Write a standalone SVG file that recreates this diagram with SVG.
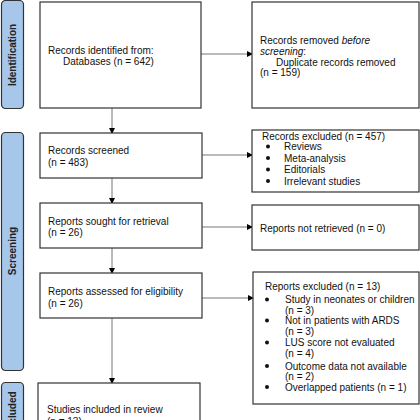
<svg xmlns="http://www.w3.org/2000/svg" width="420" height="420" viewBox="0 0 420 420">
<defs>
<marker id="ah" markerWidth="6" markerHeight="6" refX="5" refY="3" orient="auto" markerUnits="userSpaceOnUse">
<path d="M0,0 L6,3 L0,6 Z" fill="#000"/>
</marker>
<style>
.box{fill:#fff;stroke:#333;stroke-width:1.2}
.bar{fill:#a6c6ea;stroke:#333;stroke-width:1.2}
.t{font-family:"Liberation Sans",Arial,sans-serif;font-size:10px;fill:#111}
.bt{font-family:"Liberation Sans",Arial,sans-serif;font-size:10px;font-weight:bold;fill:#222}
.c{stroke:#777;stroke-width:1;fill:none;marker-end:url(#ah)}
</style>
</defs>
<rect width="420" height="420" fill="#fff"/>
<g id="bar-identification"><rect class="bar" x="1.5" y="0.5" width="22" height="108" rx="4"/><text class="bt" transform="translate(16,55) rotate(-90)" text-anchor="middle">Identification</text></g>
<g id="bar-screening"><rect class="bar" x="1.5" y="132.5" width="22" height="238" rx="4"/><text class="bt" transform="translate(16,251) rotate(-90)" text-anchor="middle">Screening</text></g>
<g id="bar-included"><rect class="bar" x="1.5" y="382.5" width="22" height="100" rx="4"/><text class="bt" transform="translate(16,412) rotate(-90)" text-anchor="middle">Included</text></g>

<g id="connectors">
<line class="c" x1="201" y1="54" x2="252" y2="54"/>
<line class="c" x1="112" y1="108" x2="112" y2="133"/>
<line class="c" x1="202" y1="155" x2="252" y2="155"/>
<line class="c" x1="112" y1="178" x2="112" y2="203"/>
<line class="c" x1="202" y1="227" x2="252" y2="227"/>
<line class="c" x1="112" y1="248" x2="112" y2="273"/>
<line class="c" x1="202" y1="298" x2="253" y2="298"/>
<line class="c" x1="112" y1="318" x2="112" y2="383"/>
</g>

<g id="identified"><rect class="box" x="40" y="2" width="161" height="106"/>
<text class="t" x="48" y="53.5">Records identified from:</text>
<text class="t" x="63" y="65">Databases (n = 642)</text></g>

<g id="removed"><rect class="box" x="252" y="2" width="167" height="106"/>
<text class="t" x="260" y="43.5">Records removed <tspan font-style="italic">before</tspan></text>
<text class="t" x="260" y="54.5"><tspan font-style="italic">screening</tspan>:</text>
<text class="t" x="276" y="66">Duplicate records removed</text>
<text class="t" x="260" y="76">(n = 159)</text></g>

<g id="screened"><rect class="box" x="40" y="133" width="162" height="45"/>
<text class="t" x="48" y="153.5">Records screened</text>
<text class="t" x="48" y="165.5">(n = 483)</text></g>

<g id="excluded"><rect class="box" x="252" y="130" width="167" height="62"/>
<text class="t" x="262" y="140">Records excluded (n = 457)</text>
<g class="t"><circle cx="268" cy="146.5" r="2"/><circle cx="268" cy="158" r="2"/><circle cx="268" cy="169.5" r="2"/><circle cx="268" cy="181" r="2"/></g>
<text class="t" x="284" y="150">Reviews</text>
<text class="t" x="284" y="161.5">Meta-analysis</text>
<text class="t" x="284" y="173">Editorials</text>
<text class="t" x="284" y="184.5">Irrelevant studies</text></g>

<g id="sought"><rect class="box" x="40" y="203" width="162" height="45"/>
<text class="t" x="48" y="224.5">Reports sought for retrieval</text>
<text class="t" x="48" y="235.5">(n = 26)</text></g>

<g id="notretrieved"><rect class="box" x="252" y="205" width="167" height="45"/>
<text class="t" x="260" y="232">Reports not retrieved (n = 0)</text></g>

<g id="assessed"><rect class="box" x="40" y="273" width="162" height="45"/>
<text class="t" x="48" y="294.5">Reports assessed for eligibility</text>
<text class="t" x="48" y="306.5">(n = 26)</text></g>

<g id="reportsexcluded"><rect class="box" x="253" y="272" width="166" height="132"/>
<text class="t" x="265" y="290">Reports excluded (n = 13)</text>
<g class="t"><circle cx="267" cy="299.5" r="2"/><circle cx="267" cy="320.5" r="2"/><circle cx="267" cy="342.5" r="2"/><circle cx="267" cy="366" r="2"/><circle cx="267" cy="387" r="2"/></g>
<text class="t" x="285" y="302.5">Study in neonates or children</text>
<text class="t" x="285" y="313.5">(n = 3)</text>
<text class="t" x="285" y="324">Not in patients with ARDS</text>
<text class="t" x="285" y="334.5">(n = 3)</text>
<text class="t" x="285" y="346">LUS score not evaluated</text>
<text class="t" x="285" y="356.5">(n = 4)</text>
<text class="t" x="285" y="370">Outcome data not available</text>
<text class="t" x="285" y="379.5">(n = 2)</text>
<text class="t" x="285" y="390.5">Overlapped patients (n = 1)</text></g>

<g id="included"><rect class="box" x="38" y="383" width="162" height="60"/>
<text class="t" x="47" y="413">Studies included in review</text>
<text class="t" x="47" y="425">(n = 13)</text></g>
</svg>
